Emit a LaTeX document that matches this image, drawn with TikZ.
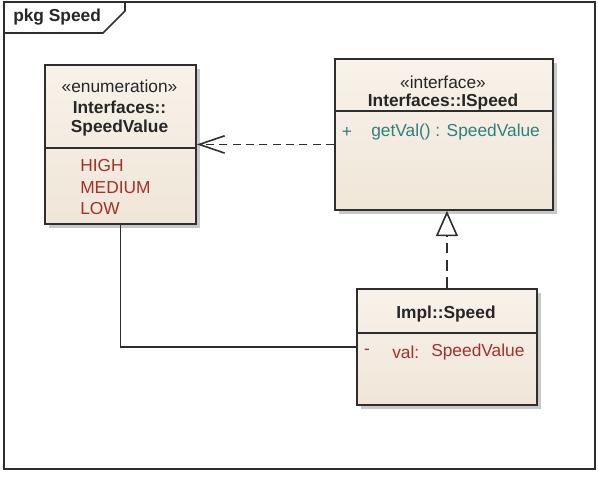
\documentclass[tikz,border=0pt]{standalone}
\usepackage{fontspec}
\setmainfont{Liberation Sans}
\usetikzlibrary{arrows.meta,shadows}
\definecolor{boxtop}{HTML}{F8F2EA}
\definecolor{boxbot}{HTML}{F0E6D8}
\definecolor{lineclr}{HTML}{2E2E2E}
\definecolor{litred}{HTML}{A3302C}
\definecolor{opteal}{HTML}{2F7F7F}
\begin{document}
\begin{tikzpicture}[x=0.75pt,y=-0.75pt,
  font=\fontsize{13}{15}\selectfont,
  umlbox/.style={rectangle, draw=lineclr, line width=1.4pt, anchor=north west,
    top color=boxtop, bottom color=boxbot, inner sep=0pt,
    drop shadow={shadow xshift=3pt, shadow yshift=-3pt, fill=black!30, opacity=0.7}},
  divider/.style={draw=lineclr, line width=1.3pt},
  conn/.style={draw=lineclr, line width=1.3pt},
  hdr/.style={font=\fontsize{13}{15}\selectfont\bfseries, text=black!85, inner sep=0pt},
  stereo/.style={text=black!85, inner sep=0pt},
  lit/.style={text=litred, inner sep=0pt, anchor=west},
  opr/.style={text=opteal, inner sep=0pt, anchor=west}
]
% background and frame
\fill[white] (0,0) rectangle (598,478);
\draw[lineclr, line width=1.3pt] (4,2) rectangle (595,469);
\draw[lineclr, line width=1.3pt] (4,33) -- (103,33) -- (125,11) -- (125,2);
\node[font=\fontsize{13}{15}\selectfont\bfseries, text=black!85, anchor=west, inner sep=0pt] (pkg) at (13,17) {pkg Speed};

% enumeration box
\node[umlbox, minimum width=113.25pt, minimum height=119.25pt] (enum) at (44,64) {};
\draw[divider] (enum.west |- 0,148) -- (enum.east |- 0,148);
\node[stereo] (enumst) at (119.5,86) {«enumeration»};
\node[hdr] (enumn1) at (119.5,107) {Interfaces::};
\node[hdr] (enumn2) at (119.5,128) {SpeedValue};
\node[lit] (lhigh) at (80,166) {HIGH};
\node[lit] (lmed) at (80,188) {MEDIUM};
\node[lit] (llow) at (80,209) {LOW};

% interface box
\node[umlbox, minimum width=163.5pt, minimum height=113.25pt] (iface) at (334,58) {};
\draw[divider] (iface.west |- 0,111) -- (iface.east |- 0,111);
\node[stereo] (ifst) at (443,82) {«interface»};
\node[hdr] (ifn) at (443,102) {Interfaces::ISpeed};
\node[text=opteal, inner sep=0pt] (plus) at (347,132) {+};
\node[opr] (getval) at (371,132) {getVal() : SpeedValue};

% impl box
\node[umlbox, minimum width=135pt, minimum height=87pt] (impl) at (356,288) {};
\draw[divider] (impl.west |- 0,333) -- (impl.east |- 0,333);
\node[hdr] (impln) at (446,314) {Impl::Speed};
\node[text=litred, inner sep=0pt] (minus) at (367,352) {-};
\node[lit] (valn) at (392,352) {val:};
\node[lit] (valt) at (431,352) {SpeedValue};

% dependency
\draw[conn, dash pattern=on 6pt off 4pt, -{Straight Barb[length=19pt,width=13pt,line width=1.2pt]}]
  (iface.west |- enum.east) -- (enum.east);
% realization
\draw[conn, dash pattern=on 8pt off 5pt, -{Triangle[open,length=19pt,width=16.5pt,fill=white,line width=1.2pt]}]
  (impl.north) -- (impl.north |- iface.south);
% association
\draw[conn] (enum.south) |- (impl.west);
\end{tikzpicture}
\end{document}
